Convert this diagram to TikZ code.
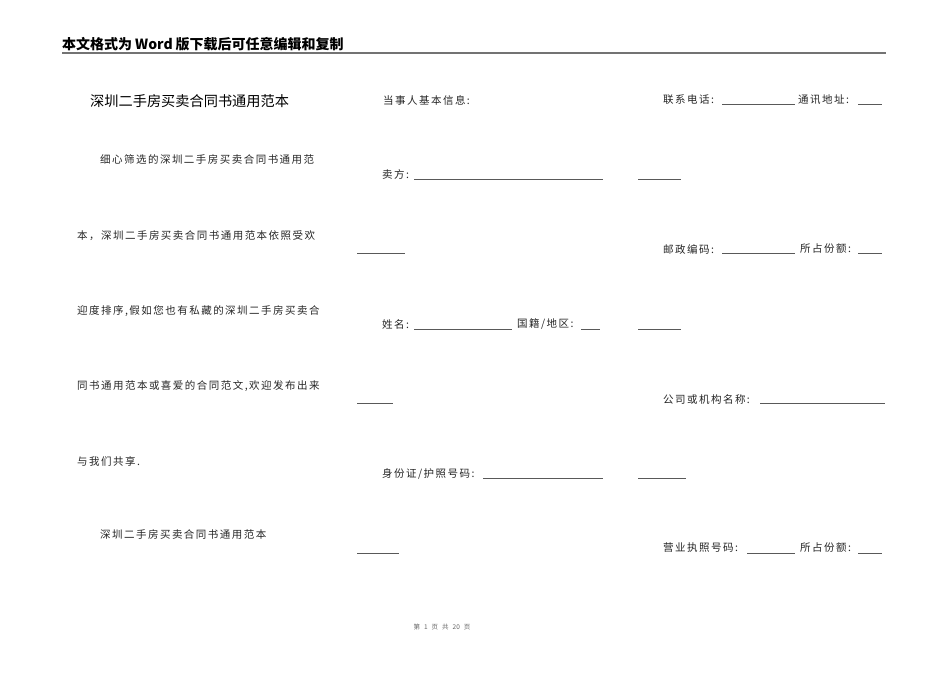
\documentclass[tikz,border=0pt]{standalone}
\usepackage{fontspec}
\newfontfamily\cjk{Noto Sans CJK SC}
\newfontfamily\cjksp[LetterSpace=14]{Noto Sans CJK SC}
\begin{document}
\begin{tikzpicture}[x=1pt,y=-1pt,
  txt/.style={anchor=west,inner sep=0pt,font=\cjksp\fontsize{10.5}{12}\selectfont,text=black!85},
  head/.style={anchor=west,inner sep=0pt,font=\cjk\bfseries\fontsize{14}{16}\selectfont},
  ttl/.style={anchor=west,inner sep=0pt,font=\cjk\fontsize{14.2}{16}\selectfont},
  foot/.style={anchor=center,inner sep=0pt,font=\cjk\fontsize{6.5}{8}\selectfont,text=black!60},
  uline/.style={draw=black!65,line width=0.8pt}]
\fill[white] (0,0) rectangle (950,672);
\useasboundingbox (0,0) rectangle (950,672);
% header
\node[head] (hd) at (62,44) {本文格式为\hspace{3pt}Word\hspace{3pt}版下载后可任意编辑和复制};
\coordinate (rl) at (62,53);
\coordinate (rr) at (886,53);
\draw[draw=black!55,line width=1.6pt] (rl) -- (rr);
% column 1
\node[ttl] (title) at (90,101) {深圳二手房买卖合同书通用范本};
\node[txt] (p1) at (100,160) {细心筛选的深圳二手房买卖合同书通用范};
\node[txt] (p2) at (77,236) {本，深圳二手房买卖合同书通用范本依照受欢};
\node[txt] (p3) at (77,311) {迎度排序,假如您也有私藏的深圳二手房买卖合};
\node[txt] (p4) at (77,386) {同书通用范本或喜爱的合同范文,欢迎发布出来};
\node[txt] (p5) at (77,461) {与我们共享.};
\node[txt] (p6) at (100,535) {深圳二手房买卖合同书通用范本};
% column 2
\node[txt] (c2a) at (383,100) {当事人基本信息:};
\node[txt] (c2b) at (382,174) {卖方:};
\draw[uline] (414,179) -- (603,179);
\draw[uline] (638,179) -- (681,179);
\draw[uline] (357,253) -- (405,253);
\node[txt] (c2c) at (382,324) {姓名:};
\draw[uline] (414,329) -- (512,329);
\node[txt] (c2d) at (517,324) {国籍/地区:};
\draw[uline] (581,329) -- (600,329);
\draw[uline] (638,329) -- (681,329);
\draw[uline] (357,403) -- (393,403);
\node[txt] (c2e) at (382,474) {身份证/护照号码:};
\draw[uline] (483,478) -- (603,478);
\draw[uline] (638,478) -- (686,478);
\draw[uline] (357,553) -- (399,553);
% column 3
\node[txt] (c3a) at (663,100) {联系电话:};
\draw[uline] (722,104) -- (795,104);
\node[txt] (c3b) at (798,100) {通讯地址:};
\draw[uline] (858,104) -- (882,104);
\node[txt] (c3c) at (663,249) {邮政编码:};
\draw[uline] (722,253) -- (795,253);
\node[txt] (c3d) at (800,249) {所占份额:};
\draw[uline] (858,253) -- (882,253);
\node[txt] (c3e) at (663,399) {公司或机构名称:};
\draw[uline] (760,403) -- (885,403);
\node[txt] (c3f) at (663,548) {营业执照号码:};
\draw[uline] (747,553) -- (795,553);
\node[txt] (c3g) at (800,548) {所占份额:};
\draw[uline] (858,553) -- (882,553);
% footer
\node[foot] (ft) at (442,627) {第\hspace{4pt}1\hspace{4pt}页\hspace{4pt}共\hspace{4pt}20\hspace{4pt}页};
\end{tikzpicture}
\end{document}
